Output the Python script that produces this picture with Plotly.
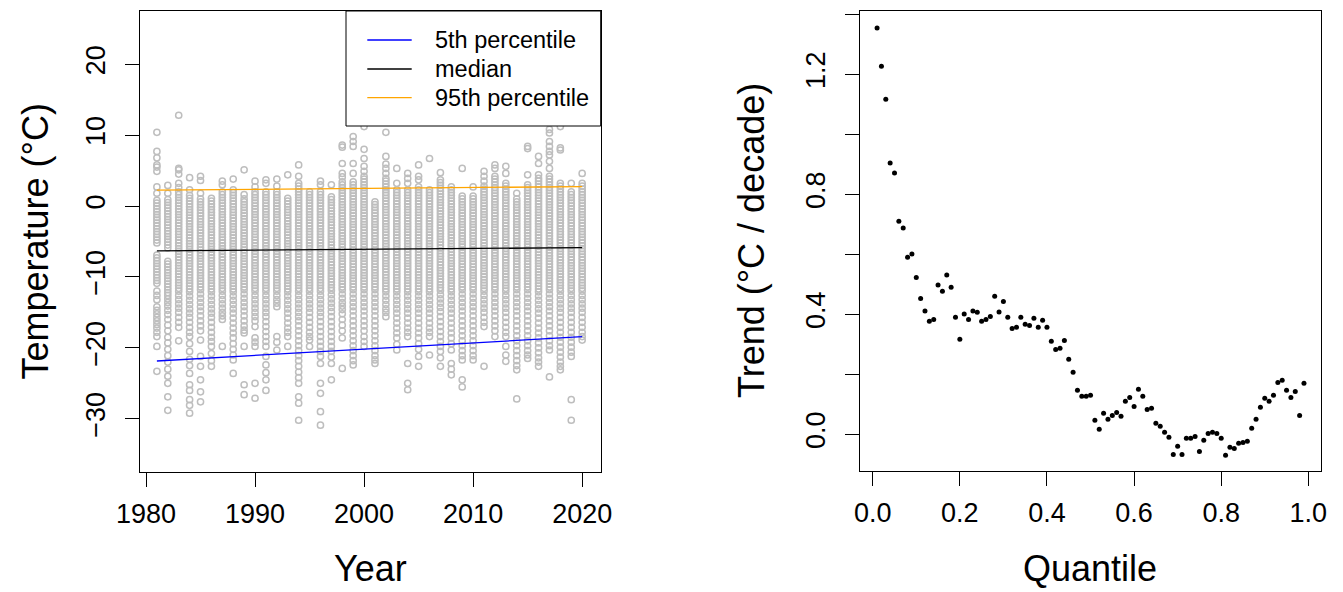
import plotly.graph_objects as go

W, H = 1343, 592
OFF = 8  # page body margin compensation
FONT = "Liberation Sans, Arial, Helvetica, sans-serif"

# ---------------- data: left panel (daily winter temperatures per year) ----------------
t1981 = "10.4 7.7 6.8 5.8 5.5 4.9 2.7 1.8 0.8 0.4 0.0 -0.4 -0.8 -1.2 -1.6 -2.0 -2.4 -2.8 -3.2 -3.6 -4.0 -4.4 -4.8 -5.2 -6.9 -7.3 -7.7 -8.1 -8.5 -8.9 -9.3 -9.7 -10.1 -10.5 -10.9 -12.0 -12.6 -13.2 -14.2 -14.7 -15.2 -15.7 -16.2 -16.7 -17.2 -17.8 -18.4 -19.8 -23.3"
t1982 = "2.9 1.8 0.9 0.5 0.1 -0.3 -0.7 -1.1 -1.5 -1.9 -2.3 -2.7 -3.1 -3.5 -3.9 -4.3 -4.7 -5.1 -5.5 -5.9 -7.8 -8.2 -8.6 -9.0 -9.4 -9.8 -10.2 -10.6 -11.0 -11.4 -11.8 -12.2 -12.6 -13.1 -13.6 -14.1 -14.7 -15.3 -16.0 -16.8 -17.6 -18.5 -19.3 -20.2 -21.1 -22.0 -23.0 -24.0 -25.0 -26.9 -28.8"
t1983 = "12.8 5.3 5.1 4.5 3.2 2.6 2.0 1.6 1.2 0.8 0.4 0.0 -0.4 -0.8 -1.2 -1.6 -2.0 -2.4 -2.8 -3.2 -3.6 -4.0 -4.4 -4.8 -5.2 -5.6 -6.0 -6.4 -6.8 -7.2 -7.6 -8.0 -8.4 -8.8 -9.2 -9.6 -10.0 -10.4 -10.8 -11.2 -11.6 -12.0 -12.6 -13.2 -13.8 -14.4 -15.0 -15.7 -16.4 -17.1 -19.0"
t1984 = "4.0 2.3 1.5 1.1 0.7 0.3 -0.1 -0.5 -0.9 -1.3 -1.7 -2.1 -2.5 -2.9 -3.3 -3.7 -4.1 -4.5 -4.9 -5.3 -5.7 -6.1 -6.5 -6.9 -7.3 -7.7 -8.1 -8.5 -8.9 -9.3 -9.7 -10.1 -10.5 -10.9 -11.3 -11.7 -12.1 -12.7 -13.3 -13.9 -14.5 -15.1 -15.7 -16.4 -17.1 -17.8 -18.4 -19.4 -20.5 -21.6 -22.5 -23.6 -25.2 -26.0 -27.3 -28.1 -29.2"
t1985 = "4.2 3.6 1.8 1.0 0.6 0.2 -0.2 -0.6 -1.0 -1.4 -1.8 -2.2 -2.6 -3.0 -3.4 -3.8 -4.2 -4.6 -5.0 -5.4 -5.8 -6.2 -6.6 -7.0 -7.4 -7.8 -8.2 -8.6 -9.0 -9.4 -9.8 -10.2 -10.6 -11.0 -11.4 -11.8 -12.4 -13.0 -13.6 -14.2 -14.8 -15.5 -16.2 -16.9 -17.6 -18.9 -21.2 -22.6 -24.5 -26.2 -27.6"
t1986 = "1.1 0.7 0.3 -0.1 -0.5 -0.9 -1.3 -1.7 -2.1 -2.5 -2.9 -3.3 -3.7 -4.1 -4.5 -4.9 -5.3 -5.7 -6.1 -6.5 -6.9 -7.3 -7.7 -8.1 -8.5 -8.9 -9.3 -9.7 -10.1 -10.5 -10.9 -11.3 -11.7 -12.1 -12.7 -13.3 -13.9 -14.5 -15.1 -15.7 -16.4 -17.1 -17.8 -18.5 -19.1 -19.8 -20.8 -21.8 -22.6"
t1987 = "3.5 3.0 2.0 1.6 1.2 0.8 0.4 0.0 -0.4 -0.8 -1.2 -1.6 -2.0 -2.4 -2.8 -3.2 -3.6 -4.0 -4.4 -4.8 -5.2 -5.6 -6.0 -6.4 -6.8 -7.2 -7.6 -8.0 -8.4 -8.8 -9.2 -9.6 -10.0 -10.4 -10.8 -11.2 -11.6 -12.0 -12.6 -13.2 -13.8 -14.4 -15.0 -15.5 -16.0 -19.8"
t1988 = "3.8 2.3 1.9 1.5 1.1 0.7 0.3 -0.1 -0.5 -0.9 -1.3 -1.7 -2.1 -2.5 -2.9 -3.3 -3.7 -4.1 -4.5 -4.9 -5.3 -5.7 -6.1 -6.5 -6.9 -7.3 -7.7 -8.1 -8.5 -8.9 -9.3 -9.7 -10.1 -10.5 -10.9 -11.3 -11.7 -12.1 -12.7 -13.3 -13.9 -14.5 -15.1 -15.8 -16.5 -17.2 -17.9 -18.6 -19.4 -20.2 -21.0 -21.7 -23.6"
t1989 = "5.1 1.6 1.0 0.6 0.2 -0.2 -0.6 -1.0 -1.4 -1.8 -2.2 -2.6 -3.0 -3.4 -3.8 -4.2 -4.6 -5.0 -5.4 -5.8 -6.2 -6.6 -7.0 -7.4 -7.8 -8.2 -8.6 -9.0 -9.4 -9.8 -10.2 -10.6 -11.0 -11.4 -11.8 -12.4 -13.0 -13.6 -14.2 -14.8 -15.5 -16.2 -16.9 -17.5 -17.9 -19.8 -25.2 -26.6"
t1990 = "3.5 2.7 2.0 1.6 1.2 0.8 0.4 0.0 -0.4 -0.8 -1.2 -1.6 -2.0 -2.4 -2.8 -3.2 -3.6 -4.0 -4.4 -4.8 -5.2 -5.6 -6.0 -6.4 -6.8 -7.2 -7.6 -8.0 -8.4 -8.8 -9.2 -9.6 -10.0 -10.4 -10.8 -11.2 -11.6 -12.0 -12.6 -13.2 -13.8 -14.4 -15.0 -15.6 -16.2 -17.0 -18.6 -19.2 -19.8 -25.0 -27.1"
t1991 = "3.7 3.2 2.0 1.6 1.2 0.8 0.4 0.0 -0.4 -0.8 -1.2 -1.6 -2.0 -2.4 -2.8 -3.2 -3.6 -4.0 -4.4 -4.8 -5.2 -5.6 -6.0 -6.4 -6.8 -7.2 -7.6 -8.0 -8.4 -8.8 -9.2 -9.6 -10.0 -10.4 -10.8 -11.2 -11.6 -12.0 -12.6 -13.2 -13.8 -14.4 -15.0 -15.6 -16.3 -17.0 -17.7 -18.4 -19.1 -19.8 -21.2 -22.4 -23.5 -24.5 -26.0"
t1992 = "3.8 2.8 2.0 1.6 1.2 0.8 0.4 0.0 -0.4 -0.8 -1.2 -1.6 -2.0 -2.4 -2.8 -3.2 -3.6 -4.0 -4.4 -4.8 -5.2 -5.6 -6.0 -6.4 -6.8 -7.2 -7.6 -8.0 -8.4 -8.8 -9.2 -9.6 -10.0 -10.4 -10.8 -11.2 -11.6 -12.0 -12.6 -13.2 -13.7 -14.2 -18.4 -19.2 -20.3"
t1993 = "4.4 1.1 0.7 0.3 -0.1 -0.5 -0.9 -1.3 -1.7 -2.1 -2.5 -2.9 -3.3 -3.7 -4.1 -4.5 -4.9 -5.3 -5.7 -6.1 -6.5 -6.9 -7.3 -7.7 -8.1 -8.5 -8.9 -9.3 -9.7 -10.1 -10.5 -10.9 -11.3 -11.7 -12.1 -12.7 -13.3 -13.9 -14.5 -15.1 -15.8 -16.5 -17.2 -17.8 -18.4 -19.8"
t1994 = "5.8 4.2 3.2 2.8 2.4 2.0 1.6 1.2 0.8 0.4 0.0 -0.4 -0.8 -1.2 -1.6 -2.0 -2.4 -2.8 -3.2 -3.6 -4.0 -4.4 -4.8 -5.2 -5.6 -6.0 -6.4 -6.8 -7.2 -7.6 -8.0 -8.4 -8.8 -9.2 -9.6 -10.0 -10.4 -10.8 -11.2 -11.6 -12.0 -12.6 -13.2 -13.8 -14.4 -15.0 -15.6 -16.2 -16.9 -17.6 -18.3 -19.0 -19.7 -20.4 -21.1 -21.8 -22.6 -23.4 -24.2 -25.0 -26.9 -27.8 -30.2"
t1995 = "2.0 1.6 1.2 0.8 0.4 0.0 -0.4 -0.8 -1.2 -1.6 -2.0 -2.4 -2.8 -3.2 -3.6 -4.0 -4.4 -4.8 -5.2 -5.6 -6.0 -6.4 -6.8 -7.2 -7.6 -8.0 -8.4 -8.8 -9.2 -9.6 -10.0 -10.4 -10.8 -11.2 -11.6 -12.0 -12.6 -13.2 -13.8 -14.4 -15.0 -15.7 -16.4 -17.1 -17.8 -18.4 -18.9 -19.8"
t1996 = "3.5 3.0 2.0 1.6 1.2 0.8 0.4 0.0 -0.4 -0.8 -1.2 -1.6 -2.0 -2.4 -2.8 -3.2 -3.6 -4.0 -4.4 -4.8 -5.2 -5.6 -6.0 -6.4 -6.8 -7.2 -7.6 -8.0 -8.4 -8.8 -9.2 -9.6 -10.0 -10.4 -10.8 -11.2 -11.6 -12.0 -12.6 -13.2 -13.8 -14.4 -15.0 -15.6 -16.3 -17.0 -17.7 -18.4 -19.1 -19.8 -20.5 -21.2 -22.2 -25.0 -26.4 -29.0 -30.9"
t1997 = "3.0 1.3 0.9 0.5 0.1 -0.3 -0.7 -1.1 -1.5 -1.9 -2.3 -2.7 -3.1 -3.5 -3.9 -4.3 -4.7 -5.1 -5.5 -5.9 -6.3 -6.7 -7.1 -7.5 -7.9 -8.3 -8.7 -9.1 -9.5 -9.9 -10.3 -10.7 -11.1 -11.5 -11.9 -12.5 -13.1 -13.7 -14.3 -14.9 -15.6 -16.3 -17.0 -17.7 -18.4 -19.1 -19.8 -20.5 -21.3 -22.2 -24.5"
t1998 = "8.6 8.3 6.0 4.6 4.1 3.4 3.0 2.6 2.2 1.8 1.4 1.0 0.6 0.2 -0.2 -0.6 -1.0 -1.4 -1.8 -2.2 -2.6 -3.0 -3.4 -3.8 -4.2 -4.6 -5.0 -5.4 -5.8 -6.2 -6.6 -7.0 -7.4 -7.8 -8.2 -8.6 -9.0 -9.4 -9.8 -10.2 -10.6 -11.0 -11.4 -11.8 -12.4 -13.0 -13.6 -14.1 -14.6 -15.2 -16.0 -16.8 -17.6 -18.6 -22.9"
t1999 = "9.8 9.1 8.4 6.0 4.6 3.4 3.0 2.6 2.2 1.8 1.4 1.0 0.6 0.2 -0.2 -0.6 -1.0 -1.4 -1.8 -2.2 -2.6 -3.0 -3.4 -3.8 -4.2 -4.6 -5.0 -5.4 -5.8 -6.2 -6.6 -7.0 -7.4 -7.8 -8.2 -8.6 -9.0 -9.4 -9.8 -10.2 -10.6 -11.0 -11.4 -11.8 -12.4 -13.0 -13.6 -14.2 -14.8 -15.5 -16.2 -16.9 -17.6 -18.3 -19.0 -19.7 -20.4 -21.1 -21.8 -22.4"
t2000 = "11.2 8.0 6.7 5.6 4.9 4.2 3.8 3.4 3.0 2.6 2.2 1.8 1.4 1.0 0.6 0.2 -0.2 -0.6 -1.0 -1.4 -1.8 -2.2 -2.6 -3.0 -3.4 -3.8 -4.2 -4.6 -5.0 -5.4 -5.8 -6.2 -6.6 -7.0 -7.4 -7.8 -8.2 -8.6 -9.0 -9.4 -9.8 -10.2 -10.6 -11.0 -11.4 -11.8 -12.4 -13.0 -13.6 -14.2 -14.8 -15.5 -16.2 -16.9 -17.6 -18.4 -19.1 -19.8"
t2001 = "0.6 0.2 -0.2 -0.6 -1.0 -1.4 -1.8 -2.2 -2.6 -3.0 -3.4 -3.8 -4.2 -4.6 -5.0 -5.4 -5.8 -6.2 -6.6 -7.0 -7.4 -7.8 -8.2 -8.6 -9.0 -9.4 -9.8 -10.2 -10.6 -11.0 -11.4 -11.8 -12.4 -13.0 -13.6 -14.2 -14.8 -15.5 -16.2 -16.9 -17.6 -18.3 -19.0 -19.7 -20.4 -21.1 -21.7 -22.2"
t2002 = "10.4 7.0 5.9 5.3 4.6 3.9 3.5 3.1 2.7 2.3 1.9 1.5 1.1 0.7 0.3 -0.1 -0.5 -0.9 -1.3 -1.7 -2.1 -2.5 -2.9 -3.3 -3.7 -4.1 -4.5 -4.9 -5.3 -5.7 -6.1 -6.5 -6.9 -7.3 -7.7 -8.1 -8.5 -8.9 -9.3 -9.7 -10.1 -10.5 -10.9 -11.3 -11.7 -12.1 -12.7 -13.3 -13.9 -14.5 -15.0 -15.6"
t2003 = "5.3 3.2 2.3 1.9 1.5 1.1 0.7 0.3 -0.1 -0.5 -0.9 -1.3 -1.7 -2.1 -2.5 -2.9 -3.3 -3.7 -4.1 -4.5 -4.9 -5.3 -5.7 -6.1 -6.5 -6.9 -7.3 -7.7 -8.1 -8.5 -8.9 -9.3 -9.7 -10.1 -10.5 -10.9 -11.3 -11.7 -12.1 -12.7 -13.3 -13.9 -14.5 -15.1 -15.8 -16.5 -17.2 -17.9 -18.6 -19.5 -20.3"
t2004 = "4.6 3.9 3.2 2.3 1.9 1.5 1.1 0.7 0.3 -0.1 -0.5 -0.9 -1.3 -1.7 -2.1 -2.5 -2.9 -3.3 -3.7 -4.1 -4.5 -4.9 -5.3 -5.7 -6.1 -6.5 -6.9 -7.3 -7.7 -8.1 -8.5 -8.9 -9.3 -9.7 -10.1 -10.5 -10.9 -11.3 -11.7 -12.1 -12.7 -13.3 -13.9 -14.5 -15.1 -15.8 -16.5 -17.2 -17.8 -18.4 -22.2 -25.0 -25.9"
t2005 = "5.8 4.2 3.7 2.7 2.3 1.9 1.5 1.1 0.7 0.3 -0.1 -0.5 -0.9 -1.3 -1.7 -2.1 -2.5 -2.9 -3.3 -3.7 -4.1 -4.5 -4.9 -5.3 -5.7 -6.1 -6.5 -6.9 -7.3 -7.7 -8.1 -8.5 -8.9 -9.3 -9.7 -10.1 -10.5 -10.9 -11.3 -11.7 -12.1 -12.7 -13.3 -13.9 -14.5 -15.1 -15.8 -16.5 -17.2 -17.9 -18.6 -19.4 -20.2 -21.2 -22.6"
t2006 = "6.7 2.3 1.9 1.5 1.1 0.7 0.3 -0.1 -0.5 -0.9 -1.3 -1.7 -2.1 -2.5 -2.9 -3.3 -3.7 -4.1 -4.5 -4.9 -5.3 -5.7 -6.1 -6.5 -6.9 -7.3 -7.7 -8.1 -8.5 -8.9 -9.3 -9.7 -10.1 -10.5 -10.9 -11.3 -11.7 -12.1 -12.7 -13.3 -13.9 -14.5 -15.1 -15.8 -16.5 -17.2 -17.8 -18.4 -21.0"
t2007 = "4.7 3.7 3.3 2.9 2.5 2.1 1.7 1.3 0.9 0.5 0.1 -0.3 -0.7 -1.1 -1.5 -1.9 -2.3 -2.7 -3.1 -3.5 -3.9 -4.3 -4.7 -5.1 -5.5 -5.9 -6.3 -6.7 -7.1 -7.5 -7.9 -8.3 -8.7 -9.1 -9.5 -9.9 -10.3 -10.7 -11.1 -11.5 -11.9 -12.5 -13.1 -13.7 -14.3 -14.9 -15.6 -16.3 -17.0 -17.7 -18.4 -19.1 -19.8 -20.5 -21.4 -22.6"
t2008 = "2.7 2.3 1.9 1.5 1.1 0.7 0.3 -0.1 -0.5 -0.9 -1.3 -1.7 -2.1 -2.5 -2.9 -3.3 -3.7 -4.1 -4.5 -4.9 -5.3 -5.7 -6.1 -6.5 -6.9 -7.3 -7.7 -8.1 -8.5 -8.9 -9.3 -9.7 -10.1 -10.5 -10.9 -11.3 -11.7 -12.1 -12.7 -13.3 -13.9 -14.5 -15.1 -15.8 -16.5 -17.2 -17.9 -18.6 -19.4 -20.3 -22.2 -23.0 -23.8"
t2009 = "5.3 1.4 1.0 0.6 0.2 -0.2 -0.6 -1.0 -1.4 -1.8 -2.2 -2.6 -3.0 -3.4 -3.8 -4.2 -4.6 -5.0 -5.4 -5.8 -6.2 -6.6 -7.0 -7.4 -7.8 -8.2 -8.6 -9.0 -9.4 -9.8 -10.2 -10.6 -11.0 -11.4 -11.8 -12.4 -13.0 -13.6 -14.2 -14.8 -15.5 -16.2 -16.9 -17.6 -18.3 -19.0 -19.7 -20.4 -21.1 -21.7 -24.5 -25.5"
t2010 = "2.7 1.4 1.0 0.6 0.2 -0.2 -0.6 -1.0 -1.4 -1.8 -2.2 -2.6 -3.0 -3.4 -3.8 -4.2 -4.6 -5.0 -5.4 -5.8 -6.2 -6.6 -7.0 -7.4 -7.8 -8.2 -8.6 -9.0 -9.4 -9.8 -10.2 -10.6 -11.0 -11.4 -11.8 -12.4 -13.0 -13.6 -14.2 -14.8 -15.5 -16.2 -16.9 -17.6 -18.3 -19.0 -19.7 -20.4 -21.1 -21.7"
t2011 = "4.9 4.2 3.5 2.8 2.4 2.0 1.6 1.2 0.8 0.4 0.0 -0.4 -0.8 -1.2 -1.6 -2.0 -2.4 -2.8 -3.2 -3.6 -4.0 -4.4 -4.8 -5.2 -5.6 -6.0 -6.4 -6.8 -7.2 -7.6 -8.0 -8.4 -8.8 -9.2 -9.6 -10.0 -10.4 -10.8 -11.2 -11.6 -12.0 -12.6 -13.2 -13.8 -14.4 -15.0 -15.7 -16.4 -17.0 -22.6"
t2012 = "5.8 5.3 4.2 3.8 3.4 3.0 2.6 2.2 1.8 1.4 1.0 0.6 0.2 -0.2 -0.6 -1.0 -1.4 -1.8 -2.2 -2.6 -3.0 -3.4 -3.8 -4.2 -4.6 -5.0 -5.4 -5.8 -6.2 -6.6 -7.0 -7.4 -7.8 -8.2 -8.6 -9.0 -9.4 -9.8 -10.2 -10.6 -11.0 -11.4 -11.8 -12.4 -13.0 -13.6 -14.2 -14.8 -15.5 -16.2 -16.9 -17.6 -18.4"
t2013 = "5.6 4.6 3.2 2.8 2.4 2.0 1.6 1.2 0.8 0.4 0.0 -0.4 -0.8 -1.2 -1.6 -2.0 -2.4 -2.8 -3.2 -3.6 -4.0 -4.4 -4.8 -5.2 -5.6 -6.0 -6.4 -6.8 -7.2 -7.6 -8.0 -8.4 -8.8 -9.2 -9.6 -10.0 -10.4 -10.8 -11.2 -11.6 -12.0 -12.6 -13.2 -13.8 -14.4 -15.0 -15.7 -16.4 -17.1 -17.8 -18.4 -19.8 -21.0 -21.9"
t2014 = "1.8 1.0 0.6 0.2 -0.2 -0.6 -1.0 -1.4 -1.8 -2.2 -2.6 -3.0 -3.4 -3.8 -4.2 -4.6 -5.0 -5.4 -5.8 -6.2 -6.6 -7.0 -7.4 -7.8 -8.2 -8.6 -9.0 -9.4 -9.8 -10.2 -10.6 -11.0 -11.4 -11.8 -12.4 -13.0 -13.6 -14.2 -14.8 -15.5 -16.2 -16.9 -17.6 -18.3 -19.0 -19.7 -20.4 -21.1 -21.8 -22.5 -23.1 -27.2"
t2015 = "8.4 8.1 4.4 3.0 2.6 2.2 1.8 1.4 1.0 0.6 0.2 -0.2 -0.6 -1.0 -1.4 -1.8 -2.2 -2.6 -3.0 -3.4 -3.8 -4.2 -4.6 -5.0 -5.4 -5.8 -6.2 -6.6 -7.0 -7.4 -7.8 -8.2 -8.6 -9.0 -9.4 -9.8 -10.2 -10.6 -11.0 -11.4 -11.8 -12.4 -13.0 -13.6 -14.2 -14.8 -15.5 -16.2 -16.9 -17.6 -18.3 -19.0 -19.7 -20.4 -21.0 -21.5"
t2016 = "7.0 6.0 4.4 3.9 3.5 3.1 2.7 2.3 1.9 1.5 1.1 0.7 0.3 -0.1 -0.5 -0.9 -1.3 -1.7 -2.1 -2.5 -2.9 -3.3 -3.7 -4.1 -4.5 -4.9 -5.3 -5.7 -6.1 -6.5 -6.9 -7.3 -7.7 -8.1 -8.5 -8.9 -9.3 -9.7 -10.1 -10.5 -10.9 -11.3 -11.7 -12.1 -12.7 -13.3 -13.9 -14.5 -15.1 -15.8 -16.5 -17.2 -17.9 -18.6 -19.3 -20.0 -20.7 -21.4 -22.0 -22.6"
t2017 = "10.8 10.3 9.1 8.4 7.7 7.2 6.3 5.3 4.2 3.8 3.4 3.0 2.6 2.2 1.8 1.4 1.0 0.6 0.2 -0.2 -0.6 -1.0 -1.4 -1.8 -2.2 -2.6 -3.0 -3.4 -3.8 -4.2 -4.6 -5.0 -5.4 -5.8 -6.2 -6.6 -7.0 -7.4 -7.8 -8.2 -8.6 -9.0 -9.4 -9.8 -10.2 -10.6 -11.0 -11.4 -11.8 -12.4 -13.0 -13.6 -14.2 -14.8 -15.5 -16.2 -16.9 -17.6 -18.3 -19.0 -19.7 -20.3 -24.1"
t2018 = "11.2 8.2 7.9 3.2 2.8 2.4 2.0 1.6 1.2 0.8 0.4 0.0 -0.4 -0.8 -1.2 -1.6 -2.0 -2.4 -2.8 -3.2 -3.6 -4.0 -4.4 -4.8 -5.2 -5.6 -6.0 -6.4 -6.8 -7.2 -7.6 -8.0 -8.4 -8.8 -9.2 -9.6 -10.0 -10.4 -10.8 -11.2 -11.6 -12.0 -12.6 -13.2 -13.8 -14.4 -15.0 -15.7 -16.4 -17.1 -17.8 -18.5 -19.2 -19.9 -20.6 -21.3 -22.0 -22.6 -23.1"
t2019 = "3.2 2.0 1.6 1.2 0.8 0.4 0.0 -0.4 -0.8 -1.2 -1.6 -2.0 -2.4 -2.8 -3.2 -3.6 -4.0 -4.4 -4.8 -5.2 -5.6 -6.0 -6.4 -6.8 -7.2 -7.6 -8.0 -8.4 -8.8 -9.2 -9.6 -10.0 -10.4 -10.8 -11.2 -11.6 -12.0 -12.6 -13.2 -13.8 -14.4 -15.0 -15.7 -16.4 -17.1 -17.8 -18.5 -19.2 -19.9 -20.6 -21.2 -27.3 -30.2"
t2020 = "4.6 3.2 2.8 2.4 2.0 1.6 1.2 0.8 0.4 0.0 -0.4 -0.8 -1.2 -1.6 -2.0 -2.4 -2.8 -3.2 -3.6 -4.0 -4.4 -4.8 -5.2 -5.6 -6.0 -6.4 -6.8 -7.2 -7.6 -8.0 -8.4 -8.8 -9.2 -9.6 -10.0 -10.4 -10.8 -11.2 -11.6 -12.0 -12.6 -13.2 -13.8 -14.4 -15.0 -15.7 -16.4 -17.1 -17.8 -18.4 -18.9"

temps_by_year = {
    1981: t1981, 1982: t1982, 1983: t1983, 1984: t1984, 1985: t1985,
    1986: t1986, 1987: t1987, 1988: t1988, 1989: t1989, 1990: t1990,
    1991: t1991, 1992: t1992, 1993: t1993, 1994: t1994, 1995: t1995,
    1996: t1996, 1997: t1997, 1998: t1998, 1999: t1999, 2000: t2000,
    2001: t2001, 2002: t2002, 2003: t2003, 2004: t2004, 2005: t2005,
    2006: t2006, 2007: t2007, 2008: t2008, 2009: t2009, 2010: t2010,
    2011: t2011, 2012: t2012, 2013: t2013, 2014: t2014, 2015: t2015,
    2016: t2016, 2017: t2017, 2018: t2018, 2019: t2019, 2020: t2020,
}

# fitted percentile lines (start / end values)
line_years = [1981, 2020]
p05_line = [-21.85, -18.42]
p50_line = [-6.33, -5.87]
p95_line = [2.23, 2.74]

year_ticks = [1980, 1990, 2000, 2010, 2020]
temp_ticks = [-30, -20, -10, 0, 10, 20]

# ---------------- data: right panel (trend per quantile) ----------------
quantiles = [0.01, 0.02, 0.03, 0.04, 0.05, 0.06, 0.07, 0.08, 0.09, 0.10,
             0.11, 0.12, 0.13, 0.14, 0.15, 0.16, 0.17, 0.18, 0.19, 0.20,
             0.21, 0.22, 0.23, 0.24, 0.25, 0.26, 0.27, 0.28, 0.29, 0.30,
             0.31, 0.32, 0.33, 0.34, 0.35, 0.36, 0.37, 0.38, 0.39, 0.40,
             0.41, 0.42, 0.43, 0.44, 0.45, 0.46, 0.47, 0.48, 0.49, 0.50,
             0.51, 0.52, 0.53, 0.54, 0.55, 0.56, 0.57, 0.58, 0.59, 0.60,
             0.61, 0.62, 0.63, 0.64, 0.65, 0.66, 0.67, 0.68, 0.69, 0.70,
             0.71, 0.72, 0.73, 0.74, 0.75, 0.76, 0.77, 0.78, 0.79, 0.80,
             0.81, 0.82, 0.83, 0.84, 0.85, 0.86, 0.87, 0.88, 0.89, 0.90,
             0.91, 0.92, 0.93, 0.94, 0.95, 0.96, 0.97, 0.98, 0.99]
trends = [1.354, 1.227, 1.117, 0.904, 0.871, 0.710, 0.688, 0.590, 0.601, 0.523,
          0.453, 0.411, 0.377, 0.383, 0.498, 0.477, 0.531, 0.490, 0.390, 0.317,
          0.401, 0.383, 0.411, 0.407, 0.377, 0.383, 0.393, 0.460, 0.408, 0.443,
          0.390, 0.353, 0.357, 0.390, 0.367, 0.363, 0.387, 0.357, 0.380, 0.357,
          0.310, 0.283, 0.287, 0.313, 0.250, 0.207, 0.147, 0.127, 0.127, 0.130,
          0.047, 0.017, 0.070, 0.050, 0.063, 0.073, 0.060, 0.110, 0.123, 0.093,
          0.150, 0.127, 0.083, 0.087, 0.037, 0.027, 0.007, -0.010, -0.067, -0.040,
          -0.067, -0.013, -0.013, -0.007, -0.057, -0.020, 0.003, 0.007, 0.003, -0.013,
          -0.070, -0.043, -0.047, -0.030, -0.027, -0.023, 0.020, 0.050, 0.090, 0.120,
          0.110, 0.130, 0.173, 0.180, 0.147, 0.123, 0.143, 0.063, 0.170]
q_ticks = [0.0, 0.2, 0.4, 0.6, 0.8, 1.0]
q_ticktext = ["0.0", "0.2", "0.4", "0.6", "0.8", "1.0"]
trend_ticks = [0.0, 0.2, 0.4, 0.6, 0.8, 1.0, 1.2, 1.4]
trend_ticktext = ["0.0", "", "0.4", "", "0.8", "", "1.2", ""]


# ---------------- helpers (pixel -> paper fraction) ----------------
def px(x):
    return (x - OFF) / W


def py(y):
    return 1 - (y - OFF) / H


pts_x, pts_y = [], []
for yr, s in temps_by_year.items():
    for v in s.split():
        pts_x.append(yr)
        pts_y.append(float(v))

fig = go.Figure()

fig.add_trace(go.Scatter(
    x=pts_x, y=pts_y, mode="markers", xaxis="x", yaxis="y",
    marker=dict(symbol="circle-open", size=6.2, color="#BEBEBE",
                line=dict(width=1.5, color="#BEBEBE")),
    showlegend=False, hoverinfo="skip"))

for vals, col in [(p05_line, "#0000FF"), (p50_line, "#000000"), (p95_line, "#FFA500")]:
    fig.add_trace(go.Scatter(x=line_years, y=vals, mode="lines", xaxis="x", yaxis="y",
                             line=dict(color=col, width=1.3), showlegend=False))

fig.add_trace(go.Scatter(
    x=quantiles, y=trends, mode="markers", xaxis="x2", yaxis="y2",
    marker=dict(symbol="circle", size=5, color="black"),
    showlegend=False))

axis_common = dict(showline=True, mirror=True, linecolor="black", linewidth=1,
                   ticks="outside", ticklen=14, tickwidth=1, tickcolor="black",
                   showgrid=False, zeroline=False, automargin=False,
                   tickfont=dict(family=FONT, size=27, color="black"))

fig.update_layout(
    width=W, height=H, margin=dict(l=0, r=0, t=0, b=0, pad=0, autoexpand=False),
    paper_bgcolor="white", plot_bgcolor="white", showlegend=False,
    xaxis=dict(domain=[px(140), px(600.7)], range=[1979.45, 2021.7],
               tickvals=year_ticks, anchor="y", ticklabelstandoff=4, **axis_common),
    yaxis=dict(domain=[py(472), py(11)], range=[-37.5, 27.5],
               tickvals=temp_ticks, tickangle=-90, anchor="x", ticklabelstandoff=9,
               **axis_common),
    xaxis2=dict(domain=[px(860), px(1320.7)], range=[-0.0292, 1.0284],
                tickvals=q_ticks, ticktext=q_ticktext, anchor="y2", ticklabelstandoff=4,
                **axis_common),
    yaxis2=dict(domain=[py(471), py(11)], range=[-0.1223, 1.411],
                tickvals=trend_ticks, ticktext=trend_ticktext, tickangle=-90,
                anchor="x2", ticklabelstandoff=9, **axis_common),
)

# axis titles
title_font = dict(family=FONT, size=36, color="black")
ann = [
    dict(text="Year", x=px(370.3), y=py(568), xref="paper", yref="paper",
         showarrow=False, font=title_font, xanchor="center", yanchor="middle"),
    dict(text="Quantile", x=px(1090.3), y=py(568), xref="paper", yref="paper",
         showarrow=False, font=title_font, xanchor="center", yanchor="middle"),
    dict(text="Temperature (°C)", x=px(35), y=py(241.5), xref="paper", yref="paper",
         showarrow=False, font=title_font, textangle=-90, xanchor="center", yanchor="middle"),
    dict(text="Trend (°C / decade)", x=px(751), y=py(241), xref="paper", yref="paper",
         showarrow=False, font=title_font, textangle=-90, xanchor="center", yanchor="middle"),
]

# legend box (drawn manually like R's legend())
shapes = [dict(type="rect", xref="paper", yref="paper", x0=px(346), x1=px(600.7),
               y0=py(126), y1=py(11), fillcolor="white", line=dict(color="black", width=1),
               layer="above")]
leg_items = [("5th percentile", "#0000FF", 40), ("median", "#000000", 69),
             ("95th percentile", "#FFA500", 97.7)]
for label, col, yy in leg_items:
    shapes.append(dict(type="line", xref="paper", yref="paper", x0=px(367.3), x1=px(411.7),
                       y0=py(yy), y1=py(yy), line=dict(color=col, width=1.3), layer="above"))
    ann.append(dict(text=label, x=px(433), y=py(yy), xref="paper", yref="paper",
                    showarrow=False, xanchor="left", yanchor="middle",
                    font=dict(family=FONT, size=23.5, color="black")))

fig.update_layout(annotations=ann, shapes=shapes)

fig.write_html("out.html")
